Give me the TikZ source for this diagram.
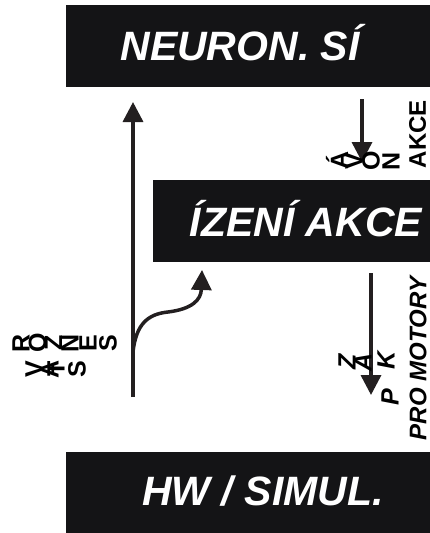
\documentclass[tikz,border=0pt]{standalone}
\usepackage{fontspec}
\setmainfont{Liberation Sans}
\usetikzlibrary{arrows.meta}
\definecolor{boxfill}{RGB}{20,20,22}
\definecolor{ink}{RGB}{35,31,32}
\begin{document}
\begin{tikzpicture}[x=1pt,y=-1pt,
  blockbox/.style={fill=boxfill,inner sep=0pt,anchor=north west},
  blocktext/.style={text=white,inner sep=0pt,anchor=base,
    font=\fontsize{41}{41}\selectfont\bfseries\itshape},
  flow/.style={draw=ink,line width=3.5pt,
    -{Triangle[width=20pt,length=20pt]}},
  sidetext/.style={text=black,inner sep=0pt,rotate=90,
    font=\fontsize{24}{24}\selectfont\bfseries},
  glyph/.style={text=black,inner sep=0pt,rotate=90,
    font=\fontsize{25}{25}\selectfont\bfseries},
  slglyph/.style={glyph,font=\fontsize{25}{25}\selectfont\bfseries\itshape}]
\useasboundingbox (0,0) rectangle (430,533);

% three blocks
\node[blockbox,minimum width=364pt,minimum height=82pt] (net) at (66,5) {};
\node[blockbox,minimum width=277pt,minimum height=82pt] (ctrl) at (153,180) {};
\node[blockbox,minimum width=364pt,minimum height=81pt] (hw) at (66,452) {};
\node[blocktext] (netlbl) at (240,60) {NEURON. SÍ};
\node[blocktext] (ctrllbl) at (306,236) {ÍZENÍ AKCE};
\node[blocktext] (hwlbl) at (263,505) {HW / SIMUL.};

% sensor state going up
\coordinate (sensA) at (133,397);
\coordinate (sensB) at (133,102);
\coordinate (branch) at (133,352);
\coordinate (ctrlIn) at (202,270);
\draw[flow] (sensA) -- (sensB);
\draw[flow] (branch) .. controls (136,324) and (148,314) .. (168,312)
  .. controls (192,309) and (201,300) .. (ctrlIn);

% new action going down
\coordinate (actA) at (362,99);
\coordinate (actB) at (362,162);
\draw[flow] (actA) -- (actB);

% motor command going down
\coordinate (motA) at (371,273);
\coordinate (motB) at (371,395);
\draw[flow] (motA) -- (motB);

% side labels
\node[sidetext] (akce) at (417.5,134) {AKCE};
\node[sidetext,font=\fontsize{24}{24}\selectfont\bfseries\itshape] (motory) at (418,358.5) {PRO MOTORY};

% scattered letters: NOVÁ
\node[glyph] (g1) at (337,160) {Á};
\node[glyph] (g2) at (354,161) {V};
\node[glyph] (g3) at (371,161) {O};
\node[glyph] (g4) at (391,161) {N};

% scattered letters: PŘÍKAZ
\node[slglyph] (p1) at (347,362) {Z};
\node[slglyph] (p2) at (363,362) {A};
\node[slglyph] (p3) at (386,360) {K};
\node[slglyph] (p4) at (390,397) {P};

% scattered letters: SENZOR
\node[glyph] (s1) at (21,343) {R};
\node[glyph] (s2) at (37.5,343) {O};
\node[glyph] (s3) at (53.5,343) {Z};
\node[glyph] (s4) at (70,343) {N};
\node[glyph] (s5) at (88,343) {E};
\node[glyph] (s6) at (108,343) {S};

% scattered letters: STAV
\node[glyph] (t1) at (34,369) {V};
\node[glyph] (t2) at (50,369) {A};
\node[glyph] (t3) at (56,369) {T};
\node[glyph] (t4) at (77,369) {S};
\end{tikzpicture}
\end{document}
